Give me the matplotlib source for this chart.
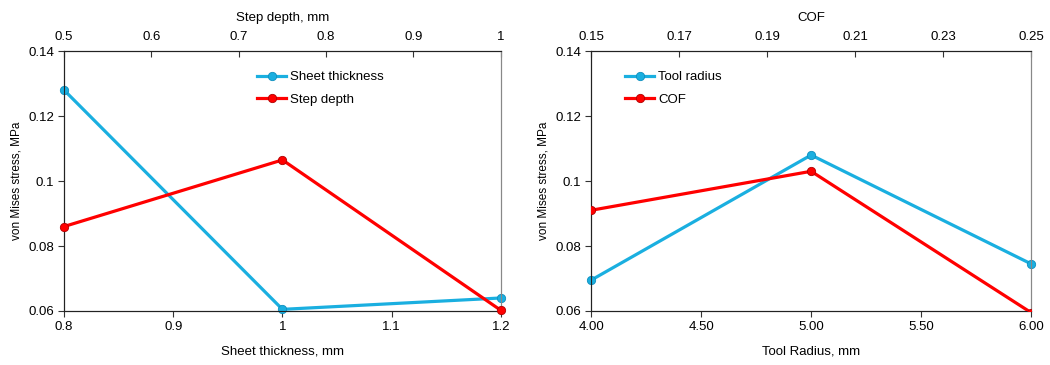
import matplotlib
matplotlib.use("Agg")
import matplotlib.pyplot as plt

plt.rcParams['font.family'] = ['Liberation Sans', 'DejaVu Sans']
plt.rcParams['font.size'] = 9.5

# left panel
sheet_x = [0.8, 1.0, 1.2]
sheet_y = [0.128, 0.0605, 0.064]
step_x = [0.5, 0.75, 1.0]
step_y = [0.086, 0.1065, 0.0602]

# right panel
radius_x = [4.0, 5.0, 6.0]
radius_y = [0.0695, 0.108, 0.0745]
cof_x = [0.15, 0.20, 0.25]
cof_y = [0.091, 0.103, 0.0595]

left_bottom_ticks = [0.8, 0.9, 1.0, 1.1, 1.2]
left_bottom_labels = ["0.8", "0.9", "1", "1.1", "1.2"]
left_top_ticks = [0.5, 0.6, 0.7, 0.8, 0.9, 1.0]
left_top_labels = ["0.5", "0.6", "0.7", "0.8", "0.9", "1"]
right_bottom_ticks = [4.0, 4.5, 5.0, 5.5, 6.0]
right_bottom_labels = ["4.00", "4.50", "5.00", "5.50", "6.00"]
right_top_ticks = [0.15, 0.17, 0.19, 0.21, 0.23, 0.25]
right_top_labels = ["0.15", "0.17", "0.19", "0.21", "0.23", "0.25"]
y_ticks = [0.06, 0.08, 0.1, 0.12, 0.14]
y_labels = ["0.06", "0.08", "0.1", "0.12", "0.14"]

blue = "#1AAFE0"
red = "#FF0000"

fig = plt.figure(figsize=(10.5, 3.65), dpi=100)


def panel(rect, bx, by, tx, ty, blab, tlab, bname, tname, bt, btl, tt, ttl, leg_loc, red_clip):
    ax = fig.add_axes(rect)
    ax.set_ylim(0.06, 0.14)
    ax.set_yticks(y_ticks)
    ax.set_yticklabels(y_labels)
    ax.set_xlim(bt[0], bt[-1])
    ax.set_xticks(bt)
    ax.set_xticklabels(btl)
    l1, = ax.plot(bx, by, color=blue, lw=2.3, marker='o', ms=6,
                  markeredgecolor="#0E8FBF", markeredgewidth=0.6, label=bname, clip_on=False, zorder=3)
    ax.set_xlabel(blab, labelpad=9)
    ax.set_ylabel("von Mises stress, MPa", fontsize=8.5)
    ax.tick_params(direction='out', length=4, color="#333333", pad=3)
    ax2 = ax.twiny()
    ax2.set_xlim(tt[0], tt[-1])
    ax2.set_xticks(tt)
    ax2.set_xticklabels(ttl)
    ax2.tick_params(direction='in', length=4, color="#333333", pad=6)
    l2, = ax2.plot(tx, ty, color=red, lw=2.3, marker='o', ms=6,
                   markeredgecolor="#B00000", markeredgewidth=0.6, label=tname, clip_on=red_clip, zorder=3)
    ax2.set_xlabel(tlab, labelpad=7)
    for a in (ax, ax2):
        for s in ("left", "bottom", "top"):
            a.spines[s].set_color("#222222")
        a.spines["right"].set_color("#888888")
    ax2.legend([l1, l2], [bname, tname], loc=leg_loc, frameon=False,
               handlelength=2.2, labelspacing=0.75, handletextpad=0.3, fontsize=9.5)
    return ax


panel([0.061, 0.148, 0.416, 0.712], sheet_x, sheet_y, step_x, step_y,
      "Sheet thickness, mm", "Step depth, mm", "Sheet thickness", "Step depth",
      left_bottom_ticks, left_bottom_labels, left_top_ticks, left_top_labels,
      (0.43, 0.77), False)
panel([0.563, 0.148, 0.419, 0.712], radius_x, radius_y, cof_x, cof_y,
      "Tool Radius, mm", "COF", "Tool radius", "COF",
      right_bottom_ticks, right_bottom_labels, right_top_ticks, right_top_labels,
      (0.065, 0.77), True)

fig.savefig("out.png", dpi=100)
